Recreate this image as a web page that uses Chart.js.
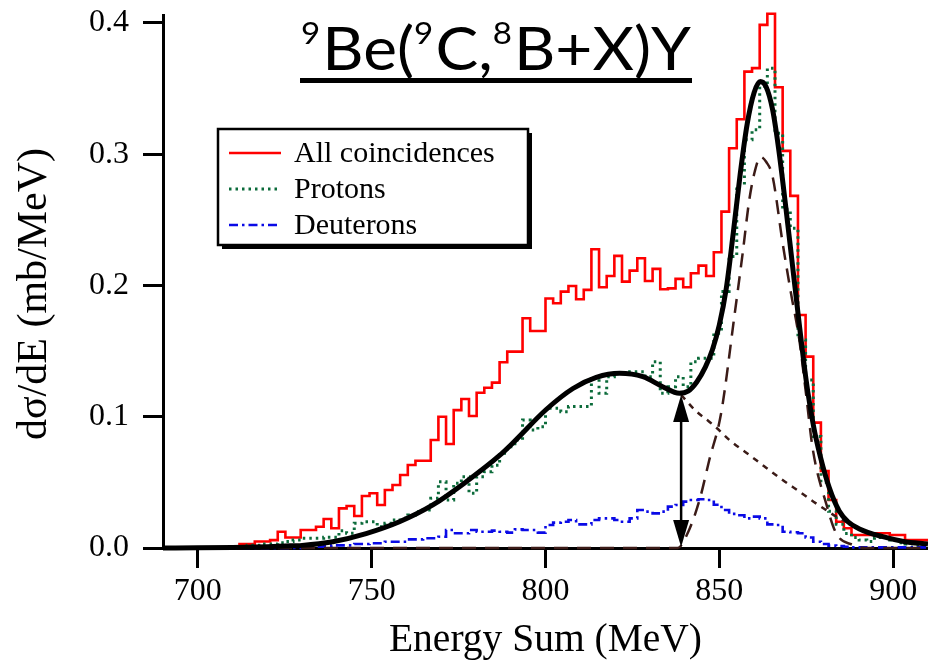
<!DOCTYPE html>
<html>
<head>
<meta charset="utf-8">
<script src="https://cdn.jsdelivr.net/npm/chart.js@4.4.1/dist/chart.umd.min.js"></script>
<style>
  html, body { margin: 0; padding: 0; background: #fff; }
  #wrap { width: 928px; height: 665px; position: relative; }
</style>
</head>
<body>
<div id="wrap"><canvas id="c" width="928" height="665"></canvas></div>
<script>
// Energy-sum spectra: 100 bins of 2.2 MeV from 690 to 910 MeV
const binStart = 690;
const binWidth = 2.2;

const allCoincidences = [
  0, 0, 0, 0, 0, 0, 0, 0, 0, 0,
  0.003, 0.003, 0.005, 0.005, 0.006, 0.0124, 0.008, 0.008, 0.0137, 0.0137,
  0.0162, 0.0221, 0.015, 0.0302, 0.032, 0.0244, 0.0396, 0.0417, 0.0328, 0.0442,
  0.048, 0.0556, 0.0632, 0.0665, 0.0665, 0.0823, 0.100, 0.0792, 0.105, 0.1135,
  0.1006, 0.1183, 0.1221, 0.126, 0.1415, 0.1496, 0.1496, 0.175, 0.1653, 0.1653,
  0.190, 0.1864, 0.1953, 0.1996, 0.1895, 0.1966, 0.2276, 0.1986, 0.2072, 0.2225,
  0.2029, 0.2113, 0.2207, 0.2034, 0.2126, 0.1971, 0.1978, 0.205, 0.1986, 0.2093,
  0.2151, 0.2072, 0.2253, 0.2562, 0.3045, 0.3266, 0.3629, 0.3655, 0.3985, 0.4069,
  0.351, 0.3025, 0.2682, 0.1775, 0.1458, 0.0955, 0.0587, 0.0366, 0.02, 0.015,
  0.0099, 0.0099, 0.0099, 0.0112, 0.0112, 0.0099, 0.0099, 0.006, 0.006, 0.006
];

const protons = [
  0, 0, 0, 0, 0, 0, 0, 0, 0, 0,
  0.001, 0.002, 0.002, 0.003, 0.003, 0.004, 0.005, 0.006, 0.0074, 0.0074,
  0.0074, 0.0081, 0.0081, 0.0132, 0.0112, 0.0188, 0.02, 0.02, 0.0162, 0.0188,
  0.0213, 0.0226, 0.0251, 0.0277, 0.029, 0.0379, 0.0505, 0.0366, 0.0493, 0.0543,
  0.0417, 0.0543, 0.058, 0.063, 0.0721, 0.0772, 0.0823, 0.0975, 0.0899, 0.0924,
  0.1064, 0.1064, 0.1038, 0.1077, 0.1077, 0.1077, 0.1305, 0.1178, 0.1305, 0.1331,
  0.1331, 0.1343, 0.1343, 0.1305, 0.1419, 0.1178, 0.1229, 0.1305, 0.1229, 0.1419,
  0.1445, 0.1445, 0.1636, 0.1953, 0.222, 0.2766, 0.3109, 0.3185, 0.3515, 0.3655,
  0.316, 0.258, 0.2436, 0.1585, 0.128, 0.085, 0.05, 0.028, 0.018, 0.011,
  0.008, 0.006, 0.005, 0.008, 0.008, 0.006, 0.004, 0.003, 0.002, 0.002
];

const deuterons = [
  0, 0, 0, 0, 0, 0, 0, 0, 0, 0,
  0, 0, 0, 0, 0, 0, 0, 0, 0.001, 0.001,
  0.001, 0.0015, 0.002, 0.002, 0.002, 0.003, 0.003, 0.0036, 0.0036, 0.0048,
  0.0048, 0.0048, 0.0066, 0.0066, 0.0074, 0.0074, 0.0086, 0.0137, 0.0112, 0.0112,
  0.0137, 0.0124, 0.0124, 0.0132, 0.0124, 0.0117, 0.0142, 0.0137, 0.0137, 0.0117,
  0.0175, 0.0193, 0.02, 0.0213, 0.018, 0.018, 0.0213, 0.0226, 0.0226, 0.0213,
  0.02, 0.0226, 0.029, 0.0277, 0.0264, 0.0277, 0.0315, 0.0328, 0.0353, 0.0366,
  0.0371, 0.0366, 0.033, 0.029, 0.026, 0.025, 0.0226, 0.0239, 0.0226, 0.018,
  0.0175, 0.0124, 0.012, 0.0112, 0.008, 0.0048, 0.003, 0.0018, 0.0015, 0.001,
  0.0005, 0.0005, 0.0005, 0.0005, 0.0005, 0.0005, 0.0005, 0.0005, 0.0005, 0.0005
];

// Total fit (broad continuum + narrow peak)
const fitEnergy = [690, 700, 710, 720, 725, 730, 738.8, 748.4, 758, 767.6, 777.2, 786.8, 790.6, 800.2, 807.9,
  814.6, 821.3, 828, 833.7, 838.5, 841, 843.5, 846, 848, 850, 852, 854, 856, 858, 860, 861.8, 863.4,
  865.3, 867, 869, 871, 873, 875, 877, 879, 881.6, 884.5, 887, 890.3, 897, 903, 910];
const fitValue = [0, 0.0001, 0.0004, 0.001, 0.0015, 0.002, 0.0048, 0.011, 0.02, 0.0328, 0.0505, 0.0705, 0.08, 0.1055, 0.1215,
  0.13, 0.1331, 0.1305, 0.1229, 0.1178, 0.1195, 0.1265, 0.138, 0.151, 0.17, 0.198, 0.24, 0.285, 0.323, 0.347, 0.3553, 0.3515,
  0.334, 0.305, 0.262, 0.216, 0.17, 0.127, 0.094, 0.07, 0.046, 0.028, 0.02, 0.0145, 0.0086, 0.005, 0.003];

// Broad component beyond the separation point
const broadEnergy = [839, 843, 847.1, 849, 853, 858.6, 863, 868.2, 873, 877.8, 884.5, 891.2];
const broadValue = [0.1166, 0.105, 0.0962, 0.092, 0.082, 0.0709, 0.062, 0.0518, 0.043, 0.034, 0.0226, 0.0137];

// Narrow peak component
const peakEnergy = [690, 838, 841, 844.3, 847.1, 850.5, 854.3, 856.7, 858.6, 860.2, 861.8, 863.5, 865.3, 868.2,
  870.6, 873, 874.9, 876.9, 880.7, 883.6, 888.4, 892, 910];
const peakValue = [0, 0, 0.012, 0.0366, 0.067, 0.1026, 0.1762, 0.2245, 0.2651, 0.287, 0.298, 0.294, 0.283, 0.2322,
  0.194, 0.1585, 0.1179, 0.0747, 0.034, 0.0112, 0.0023, 0, 0];

// Separation marker
const arrowEnergy = 839;
const arrowValue = 0.1166;

const xTickValues = [700, 750, 800, 850, 900];
const yTickValues = [0, 0.1, 0.2, 0.3, 0.4];
const xRange = [690, 910];
const yRange = [0, 0.406];

const seriesLabels = ['All coincidences', 'Protons', 'Deuterons'];
const yTitle = 'dσ/dE (mb/MeV)';
const xTitle = 'Energy Sum (MeV)';

function histPoints(values) {
  const pts = values.map((v, k) => ({ x: binStart + k * binWidth, y: v }));
  pts.push({ x: binStart + values.length * binWidth, y: values[values.length - 1] });
  return pts;
}
function curvePoints(xs, ys) {
  return xs.map((x, i) => ({ x: x, y: ys[i] }));
}

const SERIF = '"Liberation Serif", "Times New Roman", serif';
const SANS = 'Lato, "Open Sans", sans-serif';
const BROWN = '#3b1b17';

// Reaction label with superscripted mass numbers, underlined
const reactionTitle = {
  id: 'reactionTitle',
  afterDraw(chart) {
    const ctx = chart.ctx;
    const size = 60;
    const supSize = 31;
    const parts = [['9', true], ['Be(', false], ['9', true], ['C,', false], ['8', true], ['B+X)Y', false]];
    const left = 301, right = 691, baseline = 70;
    let natural = 0;
    parts.forEach(([t, sup]) => {
      ctx.font = (sup ? supSize : size) + 'px ' + SANS;
      natural += ctx.measureText(t).width + (sup ? 2 : 0);
    });
    const sx = (right - left) / natural;
    ctx.save();
    ctx.translate(left, 0);
    ctx.scale(sx, 1);
    ctx.fillStyle = '#000';
    ctx.textBaseline = 'alphabetic';
    ctx.textAlign = 'left';
    let x = 0;
    parts.forEach(([t, sup]) => {
      ctx.font = (sup ? supSize : size) + 'px ' + SANS;
      ctx.fillText(t, x, sup ? baseline - 26 : baseline);
      x += ctx.measureText(t).width + (sup ? 2 : 0);
    });
    ctx.restore();
    ctx.fillStyle = '#000';
    ctx.fillRect(left - 1, 78, right - left + 2, 5);
  }
};

// Rotated y-axis title
const yAxisTitle = {
  id: 'yAxisTitle',
  afterDraw(chart) {
    const ctx = chart.ctx;
    ctx.save();
    ctx.translate(35, 294);
    ctx.rotate(-Math.PI / 2);
    ctx.font = '42px ' + SERIF;
    ctx.fillStyle = '#000';
    ctx.textAlign = 'center';
    ctx.textBaseline = 'middle';
    ctx.fillText(yTitle, 0, 0);
    ctx.restore();
  }
};

// Framed legend with drop shadow
const framedLegend = {
  id: 'framedLegend',
  afterDraw(chart) {
    const ctx = chart.ctx;
    const box = { x: 218, y: 129, w: 310, h: 116 };
    ctx.save();
    ctx.fillStyle = '#000';
    ctx.fillRect(box.x + 4, box.y + 4, box.w, box.h);
    ctx.fillStyle = '#fff';
    ctx.fillRect(box.x, box.y, box.w, box.h);
    ctx.lineWidth = 2.5;
    ctx.strokeStyle = '#000';
    ctx.strokeRect(box.x, box.y, box.w, box.h);
    const rows = [153, 189, 225];
    seriesLabels.forEach((label, i) => {
      const ds = chart.data.datasets.find(d => d.label === label);
      const y = rows[i];
      ctx.beginPath();
      ctx.setLineDash(ds.borderDash || []);
      ctx.lineWidth = ds.borderWidth;
      ctx.strokeStyle = ds.borderColor;
      ctx.moveTo(229, y);
      ctx.lineTo(281, y);
      ctx.stroke();
      ctx.setLineDash([]);
      ctx.fillStyle = '#000';
      ctx.font = '30px ' + SERIF;
      ctx.textBaseline = 'middle';
      ctx.textAlign = 'left';
      ctx.fillText(label, 294, y + 1);
    });
    ctx.restore();
  }
};

// Double-headed arrow at the separation energy
const separationArrow = {
  id: 'separationArrow',
  afterDatasetsDraw(chart) {
    const { ctx, scales: { x, y } } = chart;
    const px = x.getPixelForValue(arrowEnergy);
    const yTop = y.getPixelForValue(arrowValue);
    const yBot = y.getPixelForValue(0) - 1;
    const headLen = 27, headHalf = 8;
    ctx.save();
    ctx.strokeStyle = '#000';
    ctx.fillStyle = '#000';
    ctx.lineWidth = 2.5;
    ctx.beginPath();
    ctx.moveTo(px, yTop + headLen - 2);
    ctx.lineTo(px, yBot - headLen + 2);
    ctx.stroke();
    ctx.beginPath();
    ctx.moveTo(px, yTop);
    ctx.lineTo(px - headHalf, yTop + headLen);
    ctx.lineTo(px + headHalf, yTop + headLen);
    ctx.closePath();
    ctx.fill();
    ctx.beginPath();
    ctx.moveTo(px, yBot);
    ctx.lineTo(px - headHalf, yBot - headLen);
    ctx.lineTo(px + headHalf, yBot - headLen);
    ctx.closePath();
    ctx.fill();
    ctx.restore();
  }
};

Chart.defaults.color = '#000';

new Chart(document.getElementById('c'), {
  type: 'line',
  data: {
    datasets: [
      {
        label: 'Fit', data: curvePoints(fitEnergy, fitValue),
        borderColor: '#000', borderWidth: 5, cubicInterpolationMode: 'monotone',
        pointRadius: 0, fill: false, clip: false
      },
      {
        label: 'Continuum', data: curvePoints(broadEnergy, broadValue),
        borderColor: BROWN, borderWidth: 2.5, borderDash: [6, 6], cubicInterpolationMode: 'monotone',
        pointRadius: 0, fill: false, clip: false
      },
      {
        label: 'Peak', data: curvePoints(peakEnergy, peakValue),
        borderColor: BROWN, borderWidth: 2.5, borderDash: [14, 9], cubicInterpolationMode: 'monotone',
        pointRadius: 0, fill: false, clip: false
      },
      {
        label: seriesLabels[2], data: histPoints(deuterons),
        borderColor: '#0a0ae6', borderWidth: 2.6, borderDash: [9, 4, 2.5, 4], stepped: true,
        pointRadius: 0, fill: false, clip: false
      },
      {
        label: seriesLabels[1], data: histPoints(protons),
        borderColor: '#0b6b3a', borderWidth: 3, borderDash: [2.5, 4], stepped: true,
        pointRadius: 0, fill: false, clip: false
      },
      {
        label: seriesLabels[0], data: histPoints(allCoincidences),
        borderColor: '#ff0000', borderWidth: 2.6, stepped: true,
        pointRadius: 0, fill: false, clip: false
      }
    ]
  },
  options: {
    responsive: false,
    animation: false,
    devicePixelRatio: 1,
    layout: { padding: { top: 15, right: 0, bottom: 0, left: 0 } },
    plugins: { legend: { display: false }, tooltip: { enabled: false }, title: { display: false } },
    scales: {
      x: {
        type: 'linear', min: xRange[0], max: xRange[1],
        afterBuildTicks: s => { s.ticks = xTickValues.map(v => ({ value: v })); },
        afterFit: s => { s.height = 117; s.paddingLeft = 0; s.paddingRight = 0; },
        ticks: { font: { family: SERIF, size: 32 }, color: '#000', padding: 4, maxRotation: 0 },
        grid: { drawOnChartArea: false, drawTicks: true, tickLength: 20, tickWidth: 3, tickColor: '#000' },
        border: { display: true, width: 3, color: '#000' },
        title: { display: true, text: xTitle, font: { family: SERIF, size: 39.5 }, color: '#000', padding: { top: 0, bottom: 1 } }
      },
      y: {
        type: 'linear', min: yRange[0], max: yRange[1],
        afterBuildTicks: s => { s.ticks = yTickValues.map(v => ({ value: v })); },
        afterFit: s => { s.width = 163; s.paddingTop = 0; s.paddingBottom = 0; },
        ticks: { font: { family: SERIF, size: 32 }, color: '#000', padding: 14, callback: v => v.toFixed(1) },
        grid: { drawOnChartArea: false, drawTicks: true, tickLength: 20, tickWidth: 3, tickColor: '#000' },
        border: { display: true, width: 3, color: '#000' },
        title: { display: false }
      }
    }
  },
  plugins: [separationArrow, framedLegend, reactionTitle, yAxisTitle]
});
</script>
</body>
</html>
